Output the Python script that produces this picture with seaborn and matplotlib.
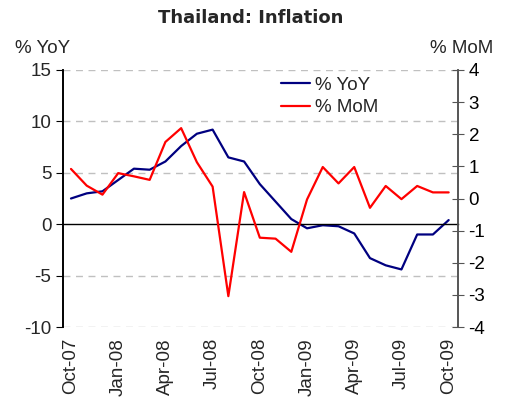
import pandas as pd
import matplotlib
matplotlib.use("Agg")
import matplotlib.pyplot as plt
import seaborn as sns

months = ["Oct-07", "Nov-07", "Dec-07", "Jan-08", "Feb-08", "Mar-08", "Apr-08", "May-08",
          "Jun-08", "Jul-08", "Aug-08", "Sep-08", "Oct-08", "Nov-08", "Dec-08", "Jan-09",
          "Feb-09", "Mar-09", "Apr-09", "May-09", "Jun-09", "Jul-09", "Aug-09", "Sep-09",
          "Oct-09"]
yoy = [2.5, 3.0, 3.2, 4.3, 5.4, 5.3, 6.1, 7.6, 8.8, 9.2, 6.5, 6.1, 3.9, 2.2, 0.5,
       -0.4, -0.1, -0.2, -0.9, -3.3, -4.0, -4.4, -1.0, -1.0, 0.4]
mom = [0.92, 0.40, 0.12, 0.79, 0.69, 0.58, 1.76, 2.19, 1.13, 0.37, -3.04, 0.20,
       -1.22, -1.25, -1.66, -0.03, 0.98, 0.47, 0.98, -0.29, 0.39, -0.02, 0.39, 0.19, 0.19]
tick_labels = months[::3]

df = pd.DataFrame({"pos": range(len(months)), "month": months, "yoy": yoy, "mom": mom})

sns.set_style("white")
plt.rcParams['font.family'] = ['Liberation Sans', 'DejaVu Sans']
plt.rcParams['axes.unicode_minus'] = False

fig = plt.figure(figsize=(5.09, 4.0), dpi=100)
ax = fig.add_axes([0.124, 0.1825, 0.776, 0.6425])
ax2 = ax.twinx()

sns.lineplot(data=df, x="pos", y="yoy", ax=ax, color="#000080", lw=1.6, label="% YoY", legend=False)
sns.lineplot(data=df, x="pos", y="mom", ax=ax2, color="#FF0000", lw=1.6, label="% MoM", legend=False)

ax.set_xlim(-0.5, 24.6)
ax.set_ylim(-10, 15)
ax2.set_ylim(-4, 4)
ax.set_yticks(range(-10, 16, 5))
ax2.set_yticks(range(-4, 5))

# dashed grid, zero line solid
for v in [-10, -5, 5, 10, 15]:
    ax.axhline(v, color="#c0c0c0", lw=1, ls=(0, (5, 4)), zorder=0)

for a in (ax, ax2):
    a.set_xlabel("")
    a.set_ylabel("")
    a.spines["top"].set_visible(False)
    a.spines["left"].set_color("black")
    a.spines["right"].set_color("#555555")
    a.spines["left"].set_linewidth(1.2)
    a.spines["right"].set_linewidth(1.2)
ax2.spines["bottom"].set_visible(False)
ax.spines["bottom"].set_position(("data", 0))
ax.spines["bottom"].set_color("black")
ax.spines["bottom"].set_linewidth(1)

ax.set_xticks([p + 2.5 for p in range(0, 24, 3)])
ax.set_xticklabels([])
ax.tick_params(axis="x", which="major", direction="out", length=5, color="black")
ax.set_xticks(list(range(0, 25, 3)), minor=True)
ax.set_xticklabels(tick_labels, minor=True, rotation=90, fontsize=13.5)
ax.tick_params(axis="x", which="minor", length=0, pad=82)

ax.tick_params(axis="y", left=True, direction="out", length=5, labelsize=13.5, color="black")
ax2.tick_params(axis="y", right=True, direction="inout", length=9, labelsize=13.5, color="#555555",
                labelcolor="black", pad=3)

fig.text(0.492, 0.955, "Thailand: Inflation", ha="center", va="center", fontsize=13,
         fontweight="bold", family="DejaVu Sans")
fig.text(0.03, 0.878, "% YoY", ha="left", va="center", fontsize=13.5)
fig.text(0.97, 0.878, "% MoM", ha="right", va="center", fontsize=13.5)

h1, l1 = ax.get_legend_handles_labels()
h2, l2 = ax2.get_legend_handles_labels()
ax2.legend(h1 + h2, l1 + l2, loc="upper left", bbox_to_anchor=(0.51, 1.04), frameon=False,
           fontsize=13.5, handlelength=1.5, handletextpad=0.3, labelspacing=0.3)

fig.savefig("out.png", dpi=100)
